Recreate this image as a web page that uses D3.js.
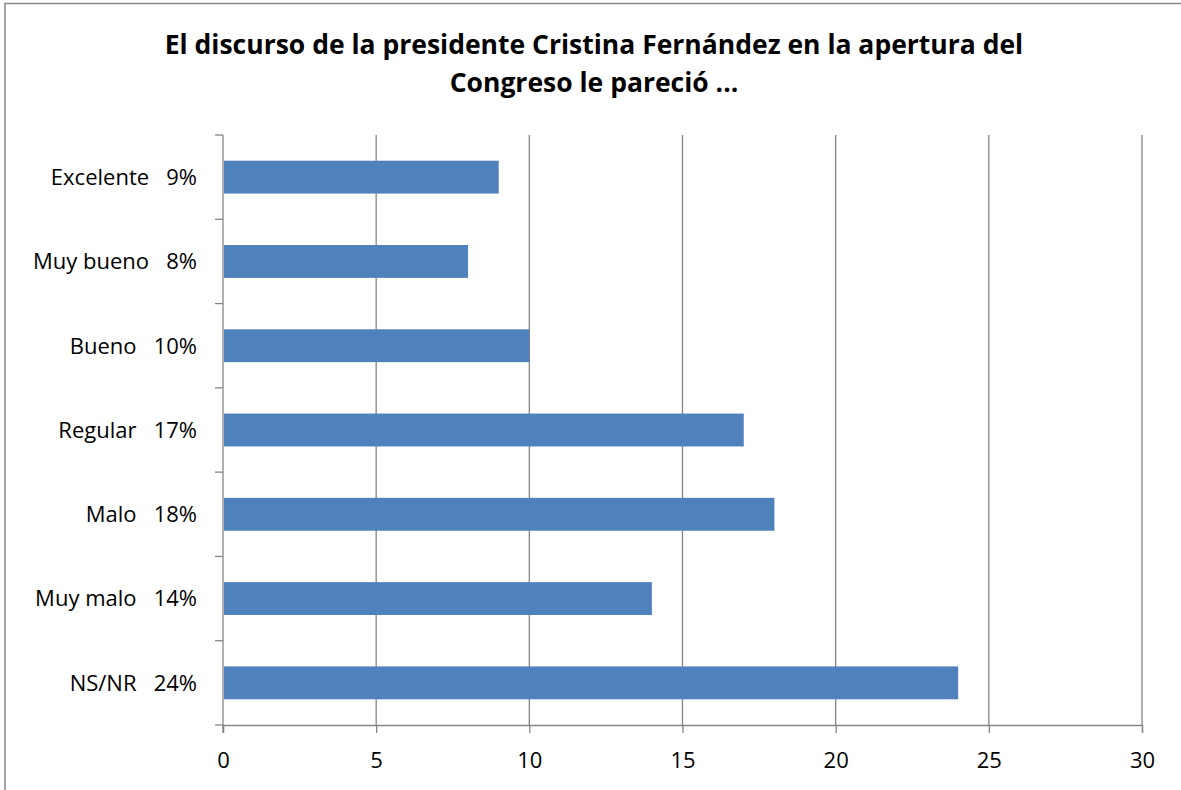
<!DOCTYPE html>
<html>
<head>
<meta charset="utf-8">
<script src="https://cdn.jsdelivr.net/npm/d3@7"></script>
<style>
  body { margin: 0; background: #fff; }
  svg { display: block; font-family: "Open Sans", "Liberation Sans", sans-serif; }
  .cat { white-space: pre; }
</style>
</head>
<body>
<svg width="1181" height="790"></svg>
<script>
var categories = ["Excelente", "Muy bueno", "Bueno", "Regular", "Malo", "Muy malo", "NS/NR"];
var values = [9, 8, 10, 17, 18, 14, 24];
var xTicks = [0, 5, 10, 15, 20, 25, 30];
var titleLines = ["El discurso de la presidente Cristina Fernández en la apertura del",
                  "Congreso le pareció ..."];

var svg = d3.select("svg");
var margin = {left: 223, right: 39, top: 135, bottom: 65};
var width = 1181 - margin.left - margin.right,
    height = 790 - margin.top - margin.bottom;

// chart frame
svg.append("rect")
    .attr("x", 5).attr("y", 3.5)
    .attr("width", 1180).attr("height", 790)
    .attr("fill", "none")
    .attr("stroke", "#868686")
    .attr("stroke-width", 1.5);

svg.append("g")
    .selectAll("text")
    .data(titleLines)
    .enter()
    .append("text")
    .attr("x", 594)
    .attr("y", function(d, i) { return 54 + i * 38; })
    .attr("text-anchor", "middle")
    .attr("font-size", 26.5)
    .attr("font-weight", "bold")
    .attr("fill", "#000")
    .text(function(d) { return d; });

var x = d3.scaleLinear().domain([0, 30]).range([0, width]);
var y = d3.scaleBand().domain(categories).range([0, height]).paddingInner(0.61).paddingOuter(0.305);
var band = d3.scaleBand().domain(categories).range([0, height]);

var g = svg.append("g")
    .attr("transform", "translate(" + margin.left + "," + margin.top + ")");

// vertical gridlines
g.selectAll(".grid")
    .data(xTicks.slice(1))
    .enter()
    .append("line")
    .attr("class", "grid")
    .attr("x1", function(d) { return x(d); })
    .attr("x2", function(d) { return x(d); })
    .attr("y1", 0)
    .attr("y2", height)
    .attr("stroke", "#868686")
    .attr("stroke-width", 1.3);

// bars
g.selectAll(".bar")
    .data(values)
    .enter()
    .append("rect")
    .attr("class", "bar")
    .attr("x", x(0) + 1)
    .attr("y", function(d, i) { return y(categories[i]); })
    .attr("width", function(d) { return x(d) - x(0) - 1; })
    .attr("height", y.bandwidth())
    .attr("fill", "#4F81BD");

// x axis
var xAxis = g.append("g")
    .attr("transform", "translate(0," + height + ")")
    .call(d3.axisBottom(x).tickValues(xTicks).tickSize(8).tickPadding(19));
xAxis.select(".domain").attr("stroke", "#868686").attr("stroke-width", 1.3);
xAxis.selectAll(".tick line").attr("stroke", "#868686").attr("stroke-width", 1.3);
xAxis.selectAll(".tick text")
    .attr("font-size", 22)
    .attr("fill", "#000")
    .attr("font-family", "Open Sans, Liberation Sans, sans-serif");

// y axis: line plus ticks at band boundaries
g.append("line")
    .attr("x1", 0).attr("x2", 0)
    .attr("y1", 0).attr("y2", height + 8)
    .attr("stroke", "#868686")
    .attr("stroke-width", 1.3);

g.selectAll(".ytick")
    .data(d3.range(categories.length + 1))
    .enter()
    .append("line")
    .attr("class", "ytick")
    .attr("x1", -8).attr("x2", 0)
    .attr("y1", function(i) { return i * band.step(); })
    .attr("y2", function(i) { return i * band.step(); })
    .attr("stroke", "#868686")
    .attr("stroke-width", 1.3);

g.selectAll(".cat")
    .data(categories)
    .enter()
    .append("text")
    .attr("class", "cat")
    .attr("x", -26)
    .attr("y", function(d) { return y(d) + y.bandwidth() / 2; })
    .attr("dy", "0.36em")
    .attr("text-anchor", "end")
    .attr("font-size", 22)
    .attr("fill", "#000")
    .text(function(d, i) { return d + "   " + values[i] + "%"; });
</script>
</body>
</html>
